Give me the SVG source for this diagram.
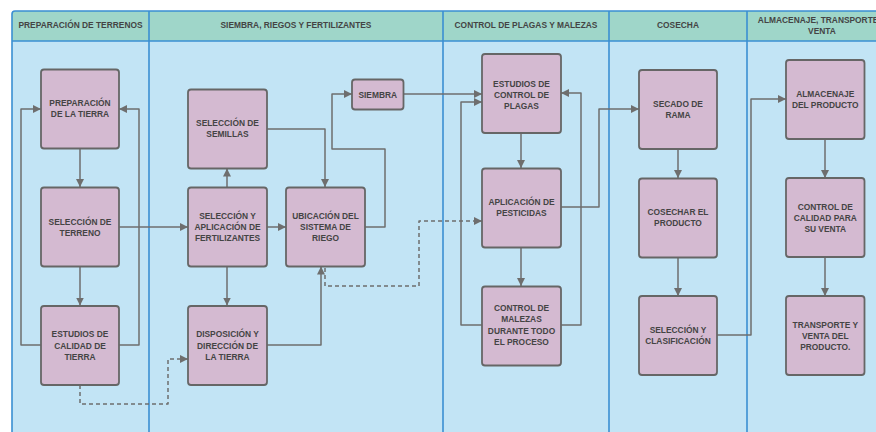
<svg xmlns="http://www.w3.org/2000/svg" width="876" height="432" viewBox="0 0 876 432">
<style>
.hdr{fill:#9fd6c9}
.body{fill:#c2e4f5}
.div{stroke:#3a8fd2;stroke-width:1.6;fill:none}
.node rect{fill:#d4bad1;stroke:#666;stroke-width:1.8}
text{font-family:"Liberation Sans",Arial,sans-serif;font-size:8.4px;fill:#444;text-anchor:middle;dominant-baseline:central;font-weight:bold}
.e{fill:none;stroke:#6e6e6e;stroke-width:1.5;stroke-linejoin:round}
.d{stroke-dasharray:4 3}
</style>
<defs>
<marker id="a" markerUnits="userSpaceOnUse" markerWidth="9" markerHeight="8" refX="8" refY="4" orient="auto">
<path d="M0,0 L8,4 L0,8 Z" fill="#6e6e6e"/>
</marker>
</defs>
<rect x="0" y="0" width="876" height="432" fill="#ffffff"/>
<g id="lanes">
<rect class="body" x="12" y="11" width="900" height="440" rx="3"/>
<rect class="hdr" x="12" y="11" width="900" height="30" rx="3"/>
<rect class="div" x="12" y="11" width="900" height="440" rx="3"/>
<line class="div" x1="12" y1="41" x2="876" y2="41"/>
<line class="div" x1="149" y1="11" x2="149" y2="432"/>
<line class="div" x1="443" y1="11" x2="443" y2="432"/>
<line class="div" x1="609" y1="11" x2="609" y2="432"/>
<line class="div" x1="747" y1="11" x2="747" y2="432"/>
<text x="80.5" y="25">PREPARACIÓN DE TERRENOS</text>
<text x="296" y="25">SIEMBRA, RIEGOS Y FERTILIZANTES</text>
<text x="526" y="25">CONTROL DE PLAGAS Y MALEZAS</text>
<text x="678" y="25">COSECHA</text>
<text x="822" y="19.5">ALMACENAJE, TRANSPORTE Y</text>
<text x="822" y="31">VENTA</text>
</g>
<g id="connectors">
<path class="e" marker-end="url(#a)" d="M80,149 V187"/>
<path class="e" marker-end="url(#a)" d="M80,266 V305.5"/>
<path class="e" marker-end="url(#a)" d="M41,345 H21 V109 H41"/>
<path class="e" marker-end="url(#a)" d="M119,345 H139 V109 H119"/>
<path class="e" marker-end="url(#a)" d="M119,227 H188"/>
<path class="e" marker-end="url(#a)" d="M227,187 V168.5"/>
<path class="e" marker-end="url(#a)" d="M227,266 V305.5"/>
<path class="e" marker-end="url(#a)" d="M267,227 H286"/>
<path class="e" marker-end="url(#a)" d="M267,129 H325 V187"/>
<path class="e" marker-end="url(#a)" d="M365,227 H385 V149 H332 V94 H352"/>
<path class="e" marker-end="url(#a)" d="M403.5,94 H482"/>
<path class="e" marker-end="url(#a)" d="M267,345 H321 V266.5"/>
<path class="e d" marker-end="url(#a)" d="M80,385 V404 H168 V359 H188"/>
<path class="e d" marker-end="url(#a)" d="M325,268 V286 H419 V221 H482"/>
<path class="e" marker-end="url(#a)" d="M521,133 V168"/>
<path class="e" marker-end="url(#a)" d="M521,247 V286"/>
<path class="e" marker-end="url(#a)" d="M482,325 H461 V102 H482"/>
<path class="e" marker-end="url(#a)" d="M561,325 H581 V93 H561"/>
<path class="e" marker-end="url(#a)" d="M561,207 H599 V109 H639"/>
<path class="e" marker-end="url(#a)" d="M678,149 V178"/>
<path class="e" marker-end="url(#a)" d="M678,257 V296"/>
<path class="e" marker-end="url(#a)" d="M717,335 H751 V99 H786"/>
<path class="e" marker-end="url(#a)" d="M825,139 V178"/>
<path class="e" marker-end="url(#a)" d="M825,257 V296"/>
</g>
<g id="n1" class="node"><rect x="41" y="69.5" width="78" height="79" rx="3"/><text x="80" y="103.3">PREPARACIÓN</text><text x="80" y="114.3">DE LA TIERRA</text></g>
<g id="n2" class="node"><rect x="41" y="187.5" width="78" height="79" rx="3"/><text x="80" y="221.5">SELECCIÓN DE</text><text x="80" y="232.5">TERRENO</text></g>
<g id="n3" class="node"><rect x="41" y="306" width="78" height="79" rx="3"/><text x="80" y="334.3">ESTUDIOS DE</text><text x="80" y="345.5">CALIDAD DE</text><text x="80" y="356.7">TIERRA</text></g>
<g id="n4" class="node"><rect x="188" y="89.5" width="79" height="79" rx="3"/><text x="227.5" y="123">SELECCIÓN DE</text><text x="227.5" y="134">SEMILLAS</text></g>
<g id="n5" class="node"><rect x="188" y="187.5" width="79" height="79" rx="3"/><text x="227.5" y="216">SELECCIÓN Y</text><text x="227.5" y="227">APLICACIÓN DE</text><text x="227.5" y="238">FERTILIZANTES</text></g>
<g id="n6" class="node"><rect x="188" y="306" width="79" height="79" rx="3"/><text x="227.5" y="334.3">DISPOSICIÓN Y</text><text x="227.5" y="345.5">DIRECCIÓN DE</text><text x="227.5" y="356.7">LA TIERRA</text></g>
<g id="n7" class="node"><rect x="286" y="187.5" width="79" height="79" rx="3"/><text x="325.5" y="216">UBICACIÓN DEL</text><text x="325.5" y="227">SISTEMA DE</text><text x="325.5" y="238">RIEGO</text></g>
<g id="n8" class="node"><rect x="352" y="79.5" width="51.5" height="30" rx="3"/><text x="377.75" y="94.5">SIEMBRA</text></g>
<g id="n9" class="node"><rect x="482" y="54" width="79" height="79" rx="3"/><text x="521.5" y="84">ESTUDIOS DE</text><text x="521.5" y="95">CONTROL DE</text><text x="521.5" y="106">PLAGAS</text></g>
<g id="n10" class="node"><rect x="482" y="168.5" width="79" height="79" rx="3"/><text x="521.5" y="202">APLICACIÓN DE</text><text x="521.5" y="213">PESTICIDAS</text></g>
<g id="n11" class="node"><rect x="482" y="286.5" width="79" height="79" rx="3"/><text x="521.5" y="308">CONTROL DE</text><text x="521.5" y="319.3">MALEZAS</text><text x="521.5" y="330.6">DURANTE TODO</text><text x="521.5" y="341.9">EL PROCESO</text></g>
<g id="n12" class="node"><rect x="639" y="70" width="78" height="79" rx="3"/><text x="678" y="103.5">SECADO DE</text><text x="678" y="114.5">RAMA</text></g>
<g id="n13" class="node"><rect x="639" y="178.5" width="78" height="79" rx="3"/><text x="678" y="212">COSECHAR EL</text><text x="678" y="223">PRODUCTO</text></g>
<g id="n14" class="node"><rect x="639" y="296" width="78" height="79" rx="3"/><text x="678" y="329.5">SELECCIÓN Y</text><text x="678" y="340.5">CLASIFICACIÓN</text></g>
<g id="n15" class="node"><rect x="786" y="60" width="78.5" height="79" rx="3"/><text x="825.25" y="93.5">ALMACENAJE</text><text x="825.25" y="104.5">DEL PRODUCTO</text></g>
<g id="n16" class="node"><rect x="786" y="178" width="78.5" height="79" rx="3"/><text x="825.25" y="207">CONTROL DE</text><text x="825.25" y="218">CALIDAD PARA</text><text x="825.25" y="229">SU VENTA</text></g>
<g id="n17" class="node"><rect x="786" y="296" width="78.5" height="79" rx="3"/><text x="825.25" y="325">TRANSPORTE Y</text><text x="825.25" y="336">VENTA DEL</text><text x="825.25" y="347">PRODUCTO.</text></g>
</svg>
